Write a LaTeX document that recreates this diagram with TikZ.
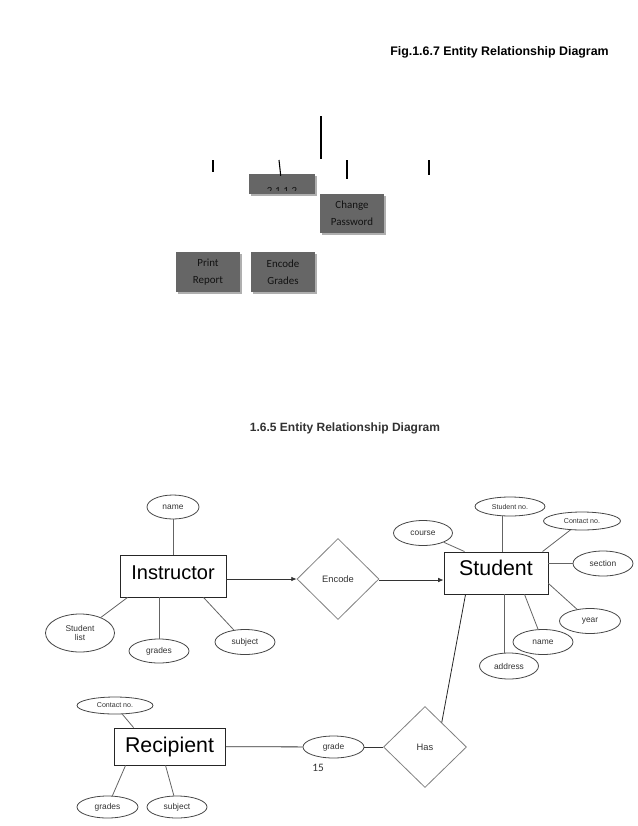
\documentclass[tikz,border=0pt]{standalone}
\usepackage{fontspec}
\setmainfont{Liberation Sans}
\newfontfamily\calibri{Carlito}
\usetikzlibrary{shapes.geometric,arrows.meta,calc}
\definecolor{boxgray}{RGB}{102,102,102}
\definecolor{boxshadow}{RGB}{175,175,175}
\definecolor{boxtext}{RGB}{18,18,18}
\definecolor{lngray}{RGB}{100,100,100}
\definecolor{elgray}{RGB}{70,70,70}
\definecolor{txgray}{RGB}{50,50,50}
\begin{document}
\begin{tikzpicture}[x=0.75pt,y=-0.75pt,
  wh/.style 2 args={minimum width=#1*0.75pt, minimum height=#2*0.75pt},
  gbox/.style={rectangle, fill=boxgray, inner sep=0pt,
     font=\calibri\fontsize{8.2}{12.8}\selectfont, text=boxtext, align=center},
  shad/.style={fill=boxshadow},
  ent/.style={rectangle, draw=black!85, line width=0.7pt, inner sep=0pt,
     font=\fontsize{16}{18}\selectfont},
  attr/.style={ellipse, draw=elgray, line width=0.6pt, inner sep=0pt,
     font=\fontsize{6.3}{7}\selectfont, text=txgray, align=center},
  rel/.style={diamond, draw=gray, line width=0.6pt, inner sep=0pt,
     font=\fontsize{7}{8}\selectfont, text=txgray},
  ln/.style={draw=lngray, line width=0.6pt},
  arr/.style={draw=black!80, line width=0.6pt, -{Latex[length=4pt,width=3.5pt]}}
]
\useasboundingbox (0,0) rectangle (638,826);

% ---------- top part ----------
\node[font=\bfseries\fontsize{9.3}{11}\selectfont] (title) at (499.5,52) {Fig.1.6.7 Entity Relationship Diagram};

\coordinate (t1a) at (321,116); \coordinate (t1b) at (321,159);
\coordinate (t2a) at (213,160); \coordinate (t2b) at (213,172);
\coordinate (t4a) at (347,160); \coordinate (t4b) at (347,179);
\coordinate (t5a) at (429,160); \coordinate (t5b) at (429,175);
\coordinate (t3a) at (279,160);
\draw[line width=0.8pt] (t1a) -- (t1b);
\draw[line width=0.8pt] (t2a) -- (t2b);
\draw[line width=0.8pt] (t4a) -- (t4b);
\draw[line width=0.8pt] (t5a) -- (t5b);

% shadows
\fill[shad] (251,176) rectangle (316.5,195.5);
\fill[shad] (322,196) rectangle (385.5,234.5);
\fill[shad] (178,254) rectangle (241.5,293.5);
\fill[shad] (253,254) rectangle (316.5,293.5);

\node[gbox, wh={66}{20}] (b2112) at (282,184) {};
\begin{scope}
  \clip (249,174) rectangle (315,190.5);
  \node[font=\calibri\fontsize{8.2}{10}\selectfont, text=boxtext, anchor=base] (b2112t) at (282,194) {2.1.1.2};
\end{scope}
\draw[line width=0.8pt] (t3a) -- ($(b2112.north west)+(32,2)$);

\node[gbox, wh={64}{39}] (chpw) at (352,213.5) {Change\\Password};
\node[gbox, wh={64}{40}] (print) at (208,272) {Print\\Report};
\node[gbox, wh={64}{40}] (encg) at (283,272) {Encode\\Grades};

% ---------- bottom part ----------
\node[font=\bfseries\fontsize{9}{11}\selectfont, text=txgray] (head) at (345,428) {1.6.5 Entity Relationship Diagram};

% entities
\node[ent, wh={106}{42}, font=\fontsize{15}{18}\selectfont, text height=11pt, text depth=6pt] (instr) at (173,576) {Instructor};
\node[ent, wh={104}{42}, text height=12pt, text depth=8pt] (student) at (496,573) {Student};
\node[ent, wh={111}{37}] (recip) at (169.5,746.5) {Recipient};

% relationships
\node[rel, wh={82}{81}] (encode) at (338,579) {Encode};
\node[rel, wh={83}{81}] (has) at (425,747) {Has};

% instructor attributes
\node[attr, wh={52}{24}] (iname) at (173,507) {name};
\node[attr, wh={69}{38}] (slist) at (80,633) {Student\\list};
\node[attr, wh={60}{24}] (igrades) at (159,651) {grades};
\node[attr, wh={60}{25}] (isubj) at (245,642) {subject};

% student attributes
\node[attr, wh={59}{25}] (course) at (423,533) {course};
\node[attr, wh={70}{19}, font=\fontsize{5.3}{6}\selectfont] (sno) at (510,506.5) {Student no.};
\node[attr, wh={77}{18}, font=\fontsize{5.3}{6}\selectfont] (scont) at (582,521) {Contact no.};
\node[attr, wh={60}{25}] (ssec) at (603,563.5) {section};
\node[attr, wh={61}{25}] (syear) at (590,621) {year};
\node[attr, wh={60}{25}] (sname) at (543,642) {name};
\node[attr, wh={59}{26}] (saddr) at (509,666) {address};

% recipient attributes
\node[attr, wh={76}{17}, font=\fontsize{5.3}{6}\selectfont] (rcont) at (115,705.5) {Contact no.};
\node[attr, wh={61}{22}] (rgrades) at (107.5,807) {grades};
\node[attr, wh={60}{22}] (rsubj) at (177,807) {subject};
\node[attr, wh={61}{22}] (grade) at (333.5,747) {grade};

% page number
\node[font=\calibri\fontsize{8.5}{10}\selectfont, text=txgray] (pnum) at (318,768) {15};

% connectors: instructor
\draw[ln] (iname) -- (instr);
\draw[ln] (slist) -- ($(instr.south west)+(8,0)$);
\draw[ln] (igrades) -- (igrades |- instr.south);
\draw[ln] (isubj) -- ($(instr.south west)+(84,0)$);
\draw[arr] (instr.east |- encode.west) -- (encode.west);
\draw[arr] ($(encode.east)+(0,1)$) -- ($(encode.east -| student.west)+(0,1)$);

% connectors: student
\coordinate (snoa) at ($(student.north west)+(59,0)$);
\coordinate (adda) at ($(student.south west)+(61,0)$);
\draw[ln] (course) -- ($(student.north west)+(21,0)$);
\draw[ln] (snoa) -- (snoa |- sno.south);
\draw[ln] (scont) -- ($(student.north west)+(99,0)$);
\draw[ln] (ssec) -- (ssec.west -| student.east);
\draw[ln] (syear) -- ($(student.south east)+(0,-11)$);
\draw[ln] (sname) -- ($(student.south west)+(81,0)$);
\draw[ln] (adda) -- (adda |- saddr.north);
\draw[draw=black!85, line width=0.6pt] ($(student.south west)+(22,0)$) -- ($(has.north)!0.4!(has.east)$);

% connectors: recipient
\draw[ln] (rcont) -- ($(recip.north west)+(20,0)$);
\draw[ln] (rgrades) -- ($(recip.south west)+(12,0)$);
\draw[ln] (rsubj) -- ($(recip.south west)+(52,0)$);
\draw[draw=black!80, line width=0.6pt] (recip) -- (grade);
\draw[draw=black!80, line width=0.6pt] (grade) -- (has);
\end{tikzpicture}
\end{document}
